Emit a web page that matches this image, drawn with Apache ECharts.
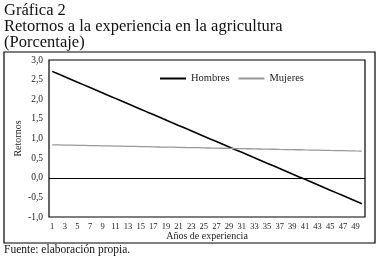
<!DOCTYPE html>
<html>
<head>
<meta charset="utf-8">
<script src="https://cdn.jsdelivr.net/npm/echarts@6/dist/echarts.min.js"></script>
<style>
html,body{margin:0;padding:0;background:#fff;}
#c{width:380px;height:258px;}
</style>
</head>
<body>
<div id="c"></div>
<script>
var categories = [];
for (var i = 1; i <= 50; i++) categories.push(String(i));

var hombres = [2.710, 2.641, 2.572, 2.504, 2.435, 2.366, 2.297, 2.229, 2.160, 2.091,
  2.022, 1.953, 1.885, 1.816, 1.747, 1.678, 1.610, 1.541, 1.472, 1.403,
  1.334, 1.266, 1.197, 1.128, 1.059, 0.990, 0.922, 0.853, 0.784, 0.715,
  0.647, 0.578, 0.509, 0.440, 0.371, 0.303, 0.234, 0.165, 0.096, 0.028,
  -0.041, -0.110, -0.179, -0.248, -0.316, -0.385, -0.454, -0.523, -0.592, -0.660];

var mujeres = [0.840, 0.837, 0.833, 0.830, 0.827, 0.824, 0.820, 0.817, 0.814, 0.811,
  0.807, 0.804, 0.801, 0.798, 0.794, 0.791, 0.788, 0.784, 0.781, 0.778,
  0.775, 0.771, 0.768, 0.765, 0.762, 0.758, 0.755, 0.752, 0.749, 0.745,
  0.742, 0.739, 0.736, 0.732, 0.729, 0.726, 0.722, 0.719, 0.716, 0.713,
  0.709, 0.706, 0.703, 0.700, 0.696, 0.693, 0.690, 0.687, 0.683, 0.680];

var seriesNames = ['Hombres', 'Mujeres'];
var titleLines = ['Gráfica 2', 'Retornos a la experiencia en la agricultura', '(Porcentaje)'];
var sourceText = 'Fuente: elaboración propia.';

var SERIF = '"Liberation Serif", "DejaVu Serif", serif';

var chart = echarts.init(document.getElementById('c'), null, {renderer: 'canvas'});
chart.setOption({
  animation: false,
  backgroundColor: '#fff',
  textStyle: {fontFamily: SERIF},
  grid: {left: 49, top: 60, right: 15, bottom: 41, show: true, borderColor: '#000', borderWidth: 1.2, backgroundColor: 'transparent'},
  legend: {
    left: 155, top: 68, itemGap: 9, itemWidth: 26, itemHeight: 2,
    textStyle: {fontFamily: SERIF, fontSize: 10.5, color: '#222'},
    data: [
      {name: seriesNames[0], icon: 'rect', itemStyle: {color: '#000'}},
      {name: seriesNames[1], icon: 'rect', itemStyle: {color: '#999'}}
    ]
  },
  xAxis: {
    type: 'category', data: categories, boundaryGap: true,
    name: 'Años de experiencia', nameLocation: 'middle', nameGap: 14, nameMoveOverlap: false,
    nameTextStyle: {fontFamily: SERIF, fontSize: 10, color: '#222'},
    axisLine: {show: false}, axisTick: {show: false},
    axisLabel: {interval: 1, fontFamily: SERIF, fontSize: 8.5, color: '#222', margin: 5}
  },
  yAxis: {
    type: 'value', min: -1, max: 3, interval: 0.5,
    name: 'Retornos', nameLocation: 'middle', nameGap: 26, nameRotate: 90, nameMoveOverlap: false,
    nameTextStyle: {fontFamily: SERIF, fontSize: 10, color: '#222'},
    axisLine: {show: false}, axisTick: {show: false}, splitLine: {show: false},
    axisLabel: {fontFamily: SERIF, fontSize: 9.5, color: '#222', margin: 6,
      formatter: function (v) { return v.toFixed(1).replace('.', ','); }}
  },
  series: [
    {name: seriesNames[0], type: 'line', data: hombres, symbol: 'none', silent: true,
      lineStyle: {color: '#000', width: 1.6}, itemStyle: {color: '#000'},
      markLine: {silent: true, symbol: 'none', label: {show: false},
        lineStyle: {color: '#000', width: 1, type: 'solid'}, data: [{yAxis: 0}]}},
    {name: seriesNames[1], type: 'line', data: mujeres, symbol: 'none', silent: true,
      lineStyle: {color: '#999', width: 1.3}, itemStyle: {color: '#999'}}
  ],
  graphic: [
    {type: 'rect', shape: {x: 4, y: 52, width: 371, height: 191}, style: {fill: 'none', stroke: '#000', lineWidth: 1.2}, z: 100},
    {type: 'text', left: 4, top: 2, style: {text: titleLines[0], font: '16.5px ' + SERIF, fill: '#111'}},
    {type: 'text', left: 4, top: 18, style: {text: titleLines[1], font: '16.5px ' + SERIF, fill: '#111'}},
    {type: 'text', left: 4, top: 34, style: {text: titleLines[2], font: '16.5px ' + SERIF, fill: '#111'}},
    {type: 'text', left: 4, top: 244, style: {text: sourceText, font: '11.5px ' + SERIF, fill: '#111'}}
  ]
});
</script>
</body>
</html>
